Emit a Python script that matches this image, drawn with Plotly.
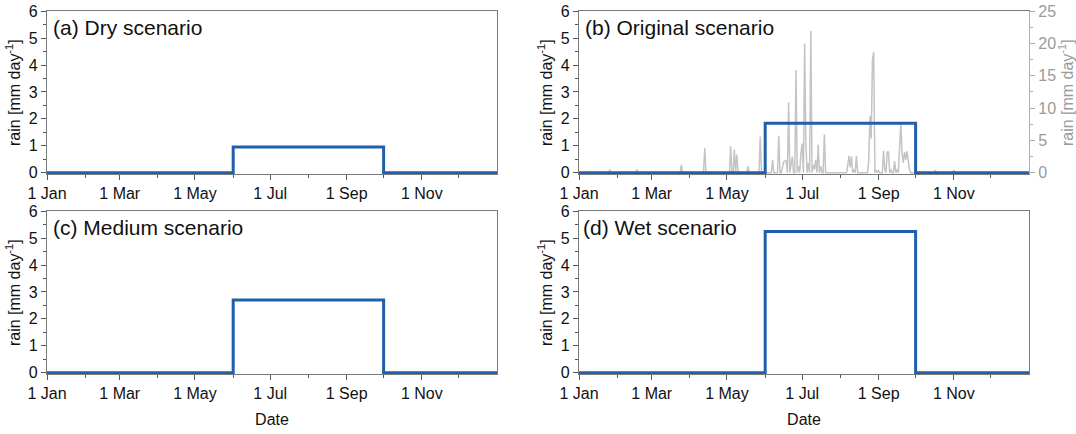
import numpy as np
import pandas as pd
import plotly.graph_objects as go

# ---------------- data ----------------
year_start = "2021-01-01"
step_dates = ["2021-01-01 00:00", "2021-06-01 00:00", "2021-10-01 00:00", "2021-12-31 23:00"]
dry_level = 0.95
original_level = 1.84
medium_level = 2.70
wet_level = 5.25

rain_days = [25, 47, 83, 102, 123, 126, 128, 137, 147, 157, 162, 165, 166, 167, 168,
             170, 172, 173, 176, 178, 180, 181, 183, 184, 186, 188, 190, 191, 192, 194,
             196, 199, 218, 219, 220, 221, 223, 225, 235, 236, 237, 238, 239, 241, 243,
             247, 248, 250, 251, 253, 256, 258, 260, 261, 262, 263, 264, 265, 266, 267,
             268, 289, 304]
rain_vals = [0.5, 0.5, 1.2, 3.8, 4.1, 3.6, 2.8, 1.0, 5.6, 2.0, 5.7, 1.0, 1.7, 1.8, 1.8,
             10.9, 1.5, 2.5, 15.9, 1.0, 3.0, 4.5, 20.0, 4.6, 1.5, 22.0, 1.2, 0.5, 2.0, 4.3,
             1.0, 5.9, 1.2, 2.6, 0.8, 2.5, 0.5, 2.6, 2.0, 8.8, 5.3, 17.5, 18.7, 0.4, 0.3,
             3.4, 0.5, 3.2, 3.2, 0.5, 1.8, 0.5, 4.0, 7.6, 3.0, 1.5, 3.2, 2.0, 3.3, 1.5,
             0.5, 0.4, 0.4]

tick_dates = ["2021-01-01", "2021-03-01", "2021-05-01", "2021-07-01", "2021-09-01", "2021-11-01"]
tick_labels = ["1 Jan", "1 Mar", "1 May", "1 Jul", "1 Sep", "1 Nov"]
panel_titles = ["(a) Dry scenario", "(b) Original scenario", "(c) Medium scenario", "(d) Wet scenario"]

# ---------------- build ----------------
days = pd.date_range(year_start, periods=365, freq="D")
daily = np.zeros(365)
daily[np.array(rain_days)] = np.array(rain_vals)

BLUE = "#1f5fab"
GREY = "#c4c4c4"
FRAME = "#7a7a7a"
FONT = "Liberation Sans, Arial, sans-serif"

def level_series(v):
    return [0, v, 0, 0]

fig = go.Figure()
fig.add_trace(go.Scatter(x=days, y=daily, mode="lines", line=dict(color=GREY, width=1.5),
                         xaxis="x2", yaxis="y2", showlegend=False, hoverinfo="skip"))
for lvl, xa, ya in [(dry_level, "x", "y"), (original_level, "x2", "y5"),
                    (medium_level, "x3", "y3"), (wet_level, "x4", "y4")]:
    fig.add_trace(go.Scatter(x=step_dates, y=level_series(lvl), mode="lines",
                             line=dict(color=BLUE, width=3, shape="hv"),
                             xaxis=xa, yaxis=ya, showlegend=False))

W, H = 1076, 434
xl = [47 / W, 497 / W]
xr = [579 / W, 1029 / W]
yt = [1 - 174 / H, 1 - 11.3 / H]
yb = [1 - 374 / H, 1 - 211.3 / H]

xrange = ["2021-01-01", "2021-12-31 23:00"]
tickfont = dict(family=FONT, size=16, color="#111")

def xax(domain, anchor, title=None):
    d = dict(domain=domain, anchor=anchor, range=xrange, type="date", automargin=False,
             tickmode="array", tickvals=tick_dates, ticktext=tick_labels,
             ticks="outside", ticklen=5, tickcolor="#555", tickwidth=1,
             minor=dict(dtick="M1", tick0=year_start, ticks="outside", ticklen=3, tickcolor="#555"),
             showline=True, linecolor=FRAME, linewidth=1.2, mirror=True,
             showgrid=False, zeroline=False, tickfont=tickfont, fixedrange=True)
    if title:
        d["title"] = dict(text=title, font=dict(family=FONT, size=16, color="#111"), standoff=12)
    return d

def yax(domain, anchor, mirror=True):
    return dict(domain=domain, anchor=anchor, range=[-0.05, 6], dtick=1, automargin=False,
                ticks="outside", ticklen=5, tickcolor="#555",
                minor=dict(dtick=0.5, ticks="outside", ticklen=2.5, tickcolor="#555"),
                showline=True, linecolor=FRAME, linewidth=1.2, mirror=mirror,
                showgrid=False, zeroline=False, tickfont=tickfont,
                title=dict(text="rain [mm day<sup>-1</sup>]", font=dict(family=FONT, size=16, color="#111"),
                           standoff=4))

fig.update_layout(
    width=W, height=H, margin=dict(l=0, r=0, t=0, b=0),
    paper_bgcolor="white", plot_bgcolor="white",
    font=dict(family=FONT),
    xaxis=xax(xl, "y"), yaxis=yax(yt, "x"),
    xaxis2=xax(xr, "y2"),
    yaxis2=dict(domain=yt, anchor="x2", side="right", range=[-0.05 * 25 / 6, 25], dtick=5,
                automargin=False,
                ticks="outside", ticklen=5, tickcolor="#aaa",
                minor=dict(dtick=2.5, ticks="outside", ticklen=2.5, tickcolor="#aaa"),
                showline=True, linecolor="#b0b0b0", linewidth=1.2,
                showgrid=False, zeroline=False,
                tickfont=dict(family=FONT, size=16, color="#9a9a9a"),
                title=dict(text="rain [mm day<sup>-1</sup>]", font=dict(family=FONT, size=16, color="#9a9a9a"),
                           standoff=4)),
    yaxis5=yax(yt, "x2", mirror=False),
    xaxis3=xax(xl, "y3", title="Date"), yaxis3=yax(yb, "x3"),
    xaxis4=xax(xr, "y4", title="Date"), yaxis4=yax(yb, "x4"),
)
fig.layout.yaxis5.overlaying = "y2"
fig.layout.yaxis5.side = "left"

title_pos = [(51, 27.5), (583, 27.5), (51, 227.5), (581, 227.5)]
for txt, (px, py) in zip(panel_titles, title_pos):
    fig.add_annotation(text=txt, xref="paper", yref="paper", x=px / W, y=1 - py / H,
                       xanchor="left", yanchor="middle", showarrow=False,
                       font=dict(family=FONT, size=21, color="#111"))

fig.write_html("out.html")
